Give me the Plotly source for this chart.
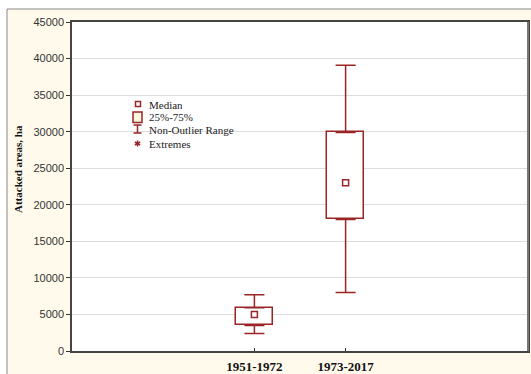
import plotly.graph_objects as go

categories = ["1951-1972", "1973-2017"]
q1 = [3500, 18000]
median = [5000, 23000]
q3 = [5900, 29900]
lower = [2400, 8000]
upper = [7700, 39100]

y_ticks = [0, 5000, 10000, 15000, 20000, 25000, 30000, 35000, 40000, 45000]

legend_labels = ["Median", "25%-75%", "Non-Outlier Range", "Extremes"]

W, H = 531, 374
L, R, T, B = 72, 528, 22, 351
RED = "#9a2424"
CREAM = "#fffaec"

def px(x):
    return (x - L) / (R - L)

def py(y):
    return (B - y) / (B - T)

fig = go.Figure()

fig.add_trace(go.Bar(
    x=categories,
    base=q1,
    y=[b - a for a, b in zip(q1, q3)],
    width=0.4,
    marker=dict(color="white", line=dict(color=RED, width=1.5)),
    showlegend=False,
))

fig.add_trace(go.Scatter(
    x=categories, y=q3, mode="markers",
    marker=dict(size=1, opacity=0),
    error_y=dict(type="data", symmetric=False,
                 array=[u - b for u, b in zip(upper, q3)],
                 arrayminus=[0, 0], color=RED, thickness=1.5, width=10),
    showlegend=False,
))
fig.add_trace(go.Scatter(
    x=categories, y=q1, mode="markers",
    marker=dict(size=1, opacity=0),
    error_y=dict(type="data", symmetric=False,
                 array=[0, 0],
                 arrayminus=[a - l for a, l in zip(q1, lower)],
                 color=RED, thickness=1.5, width=10),
    showlegend=False,
))
fig.add_trace(go.Scatter(
    x=categories, y=median, mode="markers",
    marker=dict(symbol="square-open", size=6, color=RED, line=dict(width=1.5)),
    showlegend=False,
))

shapes = [
    # outer cream frame
    dict(type="rect", xref="paper", yref="paper", layer="below",
         x0=px(7), x1=px(545), y0=py(390), y1=py(9),
         fillcolor=CREAM, line=dict(color="#888", width=1)),
    # white plot area
    dict(type="rect", xref="paper", yref="paper", layer="below",
         x0=0, x1=1, y0=0, y1=1, fillcolor="white", line=dict(width=0)),
    # legend glyphs
    dict(type="rect", xref="paper", yref="paper",
         x0=px(135.5), x1=px(140.5), y0=py(106.5), y1=py(101.5),
         fillcolor="white", line=dict(color=RED, width=1.5)),
    dict(type="rect", xref="paper", yref="paper",
         x0=px(133), x1=px(142), y0=py(122.5), y1=py(112),
         fillcolor="#fff6e0", line=dict(color=RED, width=1.5)),
    dict(type="line", xref="paper", yref="paper",
         x0=px(137.5), x1=px(137.5), y0=py(125), y1=py(133), line=dict(color=RED, width=1.5)),
    dict(type="line", xref="paper", yref="paper",
         x0=px(133.5), x1=px(141.5), y0=py(125), y1=py(125), line=dict(color=RED, width=1.5)),
    dict(type="line", xref="paper", yref="paper",
         x0=px(133.5), x1=px(141.5), y0=py(133), y1=py(133), line=dict(color=RED, width=1.5)),
    # right frame edge (grey, heavier)
    dict(type="line", xref="paper", yref="paper",
         x0=1, x1=1, y0=0, y1=1, line=dict(color="#777", width=2)),
]
# asterisk glyph
for dx0, dy0, dx1, dy1 in [(0, -3, 0, 3), (-2.6, -1.5, 2.6, 1.5), (-2.6, 1.5, 2.6, -1.5)]:
    shapes.append(dict(type="line", xref="paper", yref="paper",
                       x0=px(137.5 + dx0), x1=px(137.5 + dx1),
                       y0=py(143.5 + dy0), y1=py(143.5 + dy1),
                       line=dict(color=RED, width=1.5)))

annotations = []
for lab, yy in zip(legend_labels, [105, 117, 130, 143.5]):
    annotations.append(dict(
        text=lab, x=px(147), y=py(yy), xref="paper", yref="paper",
        xanchor="left", yanchor="middle", showarrow=False,
        font=dict(family="Liberation Serif", size=11, color="#222")))
annotations.append(dict(
    text="<b>Attacked areas, ha</b>", x=px(18), y=py(169), xref="paper", yref="paper",
    xanchor="center", yanchor="middle", textangle=-90, showarrow=False,
    font=dict(family="Liberation Serif", size=11, color="#111")))

fig.update_layout(
    width=W, height=H,
    margin=dict(l=L, r=W - R, t=T, b=H - B, pad=0, autoexpand=False),
    paper_bgcolor="white", plot_bgcolor="white",
    shapes=shapes, annotations=annotations,
    bargap=0,
    xaxis=dict(
        type="category", range=[-2, 3],
        showline=True, linecolor="#444", linewidth=1.5, mirror=True,
        ticks="inside", ticklen=3, tickcolor="#333",
        showgrid=False, zeroline=False,
        tickfont=dict(family="Liberation Serif", size=13, color="#111"),
        ticklabelstandoff=3,
    ),
    yaxis=dict(
        range=[0, 45000], tickvals=y_ticks, tickformat="d",
        showline=True, linecolor="#444", linewidth=1.5, mirror=True,
        ticks="outside", ticklen=4, tickcolor="#333",
        showgrid=True, gridcolor="#dddddd", gridwidth=1, zeroline=False,
        tickfont=dict(family="Liberation Sans", size=11, color="#333"),
    ),
    font=dict(family="Liberation Serif"),
)
fig.update_xaxes(tickprefix="<b>", ticksuffix="</b>")

fig.write_html("out.html",
               config={"displayModeBar": False},
               post_script="document.body.style.margin='0';document.body.style.overflow='hidden';")
